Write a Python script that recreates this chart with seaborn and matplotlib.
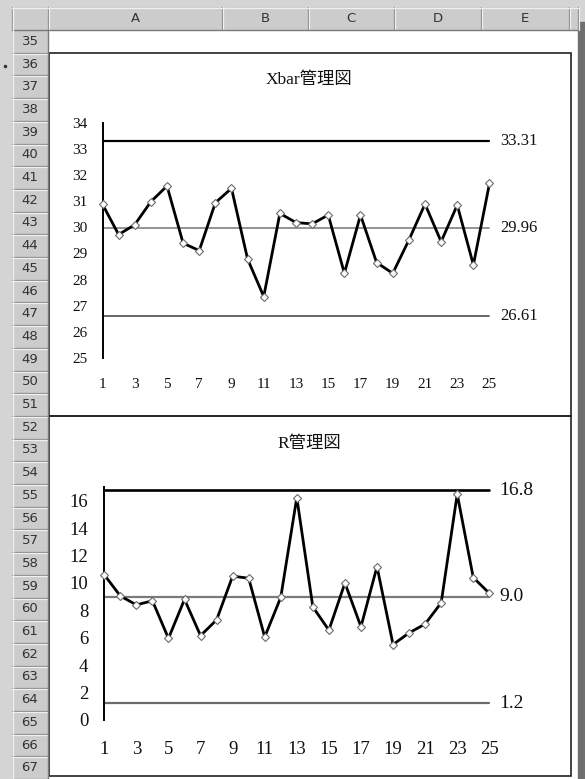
import matplotlib
matplotlib.use("Agg")
import matplotlib.pyplot as plt
from matplotlib.patches import Rectangle
import pandas as pd
import seaborn as sns

# ---- data ----
subgroups = list(range(1, 26))
xbar_values = [30.88, 29.72, 30.10, 30.98, 31.58, 29.39, 29.11, 30.94, 31.49, 28.78,
               27.35, 30.53, 30.18, 30.13, 30.47, 28.24, 30.47, 28.65, 28.24, 29.51,
               30.89, 29.45, 30.85, 28.56, 31.68]
range_values = [10.6, 9.05, 8.4, 8.7, 5.95, 8.8, 6.15, 7.3, 10.5, 10.35,
                6.05, 8.95, 16.25, 8.25, 6.55, 10.0, 6.8, 11.2, 5.5, 6.35,
                7.0, 8.55, 16.5, 10.4, 9.25]
xbar_limits = [33.31, 29.96, 26.61]   # UCL, CL, LCL
range_limits = [16.8, 9.0, 1.2]       # UCL, CL, LCL
xbar_yticks = list(range(25, 35))
range_yticks = list(range(0, 17, 2))
x_ticks = list(range(1, 26, 2))
col_labels = ["A", "B", "C", "D", "E"]
row_labels = [str(r) for r in range(35, 68)]
titles = ["Xbar管理図", "R管理図"]

W, H = 585, 779
sns.set_style("white")
plt.rcParams["font.family"] = ["Liberation Serif", "Noto Sans CJK JP"]

fig = plt.figure(figsize=(W / 100, H / 100), dpi=100)


def fbox(x0, y0, x1, y1):
    return [x0 / W, 1 - y1 / H, (x1 - x0) / W, (y1 - y0) / H]


# ---- spreadsheet frame ----
bg = fig.add_axes([0, 0, 1, 1], zorder=0)
bg.set_xlim(0, W)
bg.set_ylim(H, 0)
bg.axis("off")
bg.add_patch(Rectangle((0, 0), W, H, color="#d4d4d4"))
bg.add_patch(Rectangle((48, 30), 530, H - 30, color="white"))
bg.add_patch(Rectangle((578, 22), 7, H - 22, color="#6f6f6f"))

# column header band
bg.add_patch(Rectangle((12, 7), 566, 23, facecolor="#cccccc", edgecolor="none"))
col_edges = [12, 48, 222, 308, 394, 481, 569, 578]
for e in col_edges:
    bg.plot([e, e], [7, 30], color="#8a8a8a", lw=0.9)
    bg.plot([e + 1, e + 1], [7, 30], color="#f0f0f0", lw=0.9)
bg.plot([12, 578], [7.5, 7.5], color="#f0f0f0", lw=0.9)
bg.plot([12, 578], [30, 30], color="#7a7a7a", lw=1.0)
for name, a, b in zip(col_labels, col_edges[1:-2], col_edges[2:-1]):
    bg.text((a + b) / 2, 18.5, name, ha="center", va="center", fontsize=9.5,
            family="DejaVu Sans", color="#333333")

# row header column
row_h = 22.7
bg.add_patch(Rectangle((12, 30), 36, H - 30, facecolor="#cccccc", edgecolor="none"))
for i, lab in enumerate(row_labels):
    top = 30 + i * row_h
    bg.plot([12, 48], [top + row_h, top + row_h], color="#8a8a8a", lw=0.9)
    bg.plot([12, 48], [top + row_h + 1, top + row_h + 1], color="#f0f0f0", lw=0.9)
    bg.text(30, top + row_h / 2, lab, ha="center", va="center", fontsize=9.5,
            family="DejaVu Sans", color="#333333")
bg.plot([48, 48], [30, H], color="#7a7a7a", lw=1.0)
bg.plot([12.5, 12.5], [7, H], color="#f0f0f0", lw=0.9)
bg.plot([5], [66], marker="o", ms=1.5, color="#333333")

# chart frames
bg.add_patch(Rectangle((48.5, 52.5), 522.5, 363.5, fill=False, edgecolor="#222222", lw=1.2))
bg.add_patch(Rectangle((48.5, 416), 522.5, 360, fill=False, edgecolor="#222222", lw=1.2))
bg.text(309, 80, titles[0], ha="center", va="center", fontsize=12.5, color="#111111")
bg.text(309, 444, titles[1], ha="center", va="center", fontsize=12.5, color="#111111")


# ---- control charts ----
def control_chart(box, values, limits, ylim, yticks, fmt, tick_fs, lab_fs,
                  limit_styles, xpad, ypad, lw):
    ax = fig.add_axes(fbox(*box), zorder=2)
    ax.set_facecolor("none")
    for v, (c, w) in zip(limits, limit_styles):
        ax.axhline(v, color=c, lw=w, clip_on=False, zorder=2)
        ax.annotate(fmt.format(v), xy=(25, v), xytext=(7.5, 0),
                    textcoords="offset points", va="center", ha="left",
                    fontsize=lab_fs, color="#111111", annotation_clip=False)
    df = pd.DataFrame({"subgroup": subgroups, "value": values})
    sns.lineplot(data=df, x="subgroup", y="value", ax=ax, color="black",
                 linewidth=lw, marker="D", markersize=4.5,
                 markerfacecolor="white", markeredgecolor="#6a6a6a",
                 markeredgewidth=0.8, clip_on=False, zorder=5)
    ax.set_xlim(1, 25)
    ax.set_ylim(*ylim)
    ax.set_xticks(x_ticks)
    ax.set_yticks(yticks)
    ax.set_xlabel("")
    ax.set_ylabel("")
    for s in ["top", "right", "bottom"]:
        ax.spines[s].set_visible(False)
    ax.spines["left"].set_color("black")
    ax.spines["left"].set_linewidth(1.4)
    ax.tick_params(axis="both", length=0, labelsize=tick_fs, colors="#111111")
    ax.tick_params(axis="x", pad=xpad)
    ax.tick_params(axis="y", pad=ypad)
    ax.grid(False)
    return ax


control_chart((102.5, 122.7, 489.5, 358), xbar_values, xbar_limits, (25, 34),
              xbar_yticks, "{:.2f}", 11, 12,
              [("black", 1.6), ("#8a8a8a", 1.3), ("#5a5a5a", 1.3)],
              xpad=14.5, ypad=11, lw=2.0)
control_chart((104.3, 487.3, 489.3, 719.7), range_values, range_limits, (0, 17),
              range_yticks, "{:.1f}", 13.5, 14,
              [("black", 1.9), ("#7a7a7a", 1.6), ("#6a6a6a", 1.6)],
              xpad=15, ypad=11.5, lw=2.0)

fig.savefig("out.png", dpi=100)
